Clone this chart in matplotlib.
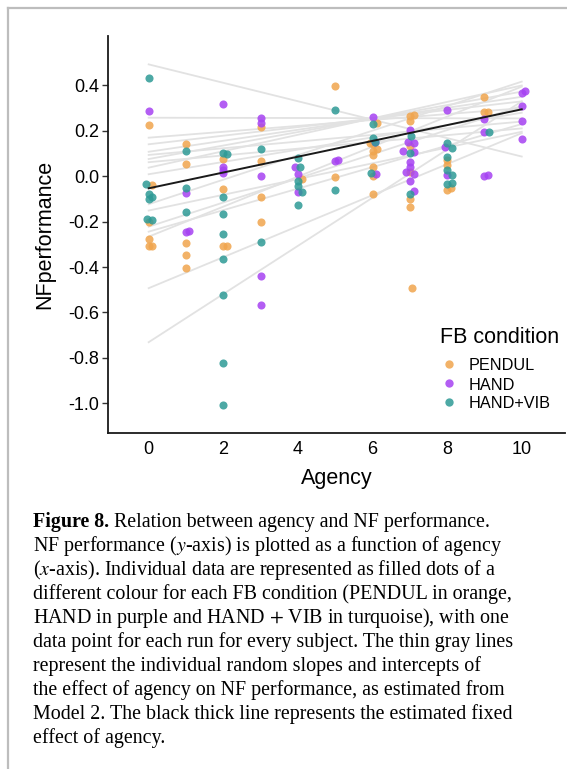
import numpy as np
import matplotlib.pyplot as plt
from matplotlib.lines import Line2D

plt.rcParams['font.family'] = ['Liberation Sans', 'DejaVu Sans']
plt.rcParams['mathtext.fontset'] = 'stix'

#==============================================================================
#                         Data
#==============================================================================
# PENDUL (orange)
pendul_x = [0, 0.08, 0, 0, 0, 0.1,
            1, 1, 1, 1, 1,
            2, 2, 2, 2.1,
            3, 3, 3, 3,
            4.1,
            5, 5,
            6.12, 5.93, 6, 6.13, 6, 6, 6, 6, 6,
            7.1, 7, 7, 7, 7, 7, 7, 7.05,
            8, 8, 8.1, 8,
            9, 9, 9.1]
pendul_y = [0.226, -0.038, -0.203, -0.278, -0.307, -0.307,
            0.141, 0.056, -0.292, -0.348, -0.402,
            0.076, -0.057, -0.307, -0.307,
            0.217, 0.066, -0.093, -0.200,
            -0.010,
            0.398, -0.001,
            0.236, 0.148, 0.141, 0.119, 0.113, 0.093, 0.040, 0.001, -0.078,
            0.270, 0.266, 0.244, 0.135, 0.021, -0.101, -0.135, -0.493,
            0.072, 0.050, -0.050, -0.059,
            0.351, 0.285, 0.285]

# HAND (purple)
hand_x = [0,
          1, 1, 1.08,
          2, 2, 2, 2,
          3, 3, 3, 3, 3,
          3.93, 4, 4,
          5, 5.08,
          6, 6.06, 6.1,
          7, 6.95, 7.12, 6.83, 7.12, 7, 7, 6.9, 7.1, 7, 7.1,
          8, 7.93, 8,
          9, 9, 9, 9.1,
          10.08, 10, 10, 10, 10]
hand_y = [0.286,
          -0.072, -0.245, -0.240,
          0.319, 0.041, 0.028, 0.013,
          0.255, 0.233, 0.003, -0.438, -0.568,
          0.041, 0.010, -0.068,
          0.069, 0.072,
          0.261, 0.153, 0.009,
          0.204, 0.153, 0.145, 0.113, 0.107, 0.062, 0.043, 0.021, 0.010, -0.023, -0.065,
          0.294, 0.129, 0.006,
          0.251, 0.194, 0.003, 0.006,
          0.376, 0.366, 0.308, 0.244, 0.163]

# HAND+VIB (turquoise)
vib_x = [0, -0.07, 0, 0.1, 0, -0.05, 0.09,
         1, 1, 1,
         2, 2.1, 2, 2, 2, 2, 2, 2, 2,
         3, 3,
         4, 4.07, 4, 4, 4.1, 4,
         5, 5,
         6, 6, 6.08, 5.95,
         7.04, 7, 7,
         8, 8.12, 8, 8, 8.12, 8.12, 8,
         9.13]
vib_y = [0.435, -0.032, -0.078, -0.090, -0.100, -0.188, -0.192,
         0.113, -0.051, -0.157,
         0.101, 0.100, -0.093, -0.167, -0.255, -0.363, -0.523, -0.821, -1.007,
         0.120, -0.288,
         0.081, 0.041, -0.023, -0.041, -0.069, -0.125,
         0.294, -0.062,
         0.231, 0.170, 0.150, 0.016,
         0.178, 0.104, -0.076,
         0.145, 0.123, 0.087, 0.028, 0.007, -0.031, -0.035,
         0.197]

# random slopes/intercepts per subject: value at agency 0 and at agency 10
subj_y0  = [0.493, 0.258, 0.170, 0.141, 0.108, 0.094, 0.076, 0.062, 0.038,
            0.009, -0.123, -0.151, -0.222, -0.244, -0.266, -0.493, -0.731]
subj_y10 = [0.087, 0.255, 0.300, 0.330, 0.350, 0.241, 0.373, 0.211, 0.400,
            0.280, 0.417, 0.196, 0.310, 0.230, 0.395, 0.190, 0.330]

# fixed effect
fixed_y0, fixed_y10 = -0.053, 0.295

cond_names = ['PENDUL', 'HAND', 'HAND+VIB']
col_pendul = '#F0A54E'
col_hand = '#A642F2'
col_vib = '#2E9A96'

#==============================================================================
#                         Plotting
#==============================================================================
fig = plt.figure(figsize=(5.67, 7.69), dpi=100)
ax = fig.add_axes([108/567, 1-433/769, (565-108)/567, (433-36)/769])

for a, b in zip(subj_y0, subj_y10):
    ax.plot([0, 10], [a, b], color='#e2e2e2', lw=1.3, zorder=1)

ax.scatter(pendul_x, pendul_y, s=34, color=col_pendul, alpha=0.85, lw=0, zorder=2)
ax.scatter(hand_x, hand_y, s=34, color=col_hand, alpha=0.85, lw=0, zorder=2)
ax.scatter(vib_x, vib_y, s=34, color=col_vib, alpha=0.85, lw=0, zorder=2)

ax.plot([0, 10], [fixed_y0, fixed_y10], color='#1a1a1a', lw=1.4, zorder=3)

ax.set_xlim(-1.09, 11.16)
ax.set_ylim(-1.131, 0.618)
ax.set_xticks([0, 2, 4, 6, 8, 10])
ax.set_yticks([0.4, 0.2, 0.0, -0.2, -0.4, -0.6, -0.8, -1.0])
ax.set_yticklabels(['0.4', '0.2', '0.0', '-0.2', '-0.4', '-0.6', '-0.8', '-1.0'])
ax.tick_params(axis='x', length=0, pad=6, labelsize=13)
ax.tick_params(axis='y', length=4.5, width=1, pad=2, labelsize=13, color='#333333')
for s in ['top', 'right']:
    ax.spines[s].set_visible(False)
for s in ['left', 'bottom']:
    ax.spines[s].set_linewidth(1.3)
    ax.spines[s].set_color('#1a1a1a')

ax.set_xlabel('Agency', fontsize=15.5, labelpad=7)
ax.set_ylabel('NFperformance', fontsize=15.5, labelpad=9)

# legend drawn by hand (left-aligned title like ggplot)
fig.text(440/567, 1-343/769, 'FB condition', fontsize=15.5, va='baseline')
leg_marker_y = [364, 383, 402]
leg_text_y = [370.5, 389.5, 408.5]
for name, c, my, ty in zip(cond_names, [col_pendul, col_hand, col_vib],
                           leg_marker_y, leg_text_y):
    fig.add_artist(Line2D([449/567], [1-my/769], ls='', marker='o', ms=6,
                          color=c, alpha=0.85, mew=0))
    fig.text(469/567, 1-ty/769, name, fontsize=11.7, va='baseline')

# frame around the figure (top and left edges visible)
fig.add_artist(Line2D([8/567, 1], [1-8/769, 1-8/769], color='#bdbdbd', lw=1.6))
fig.add_artist(Line2D([8/567, 8/567], [0, 1-8/769], color='#bdbdbd', lw=1.6))

#==============================================================================
#                         Caption
#==============================================================================
cap_lines = [
    'NF performance ($y$-axis) is plotted as a function of agency',
    '($x$-axis). Individual data are represented as filled dots of a',
    'different colour for each FB condition (PENDUL in orange,',
    'HAND in purple and HAND $+$ VIB in turquoise), with one',
    'data point for each run for every subject. The thin gray lines',
    'represent the individual random slopes and intercepts of',
    'the effect of agency on NF performance, as estimated from',
    'Model 2. The black thick line represents the estimated fixed',
    'effect of agency.',
]
x0 = 33/567
base0 = 526.5
step = 24.1
cap_fs = 14.4
t = fig.text(x0, 1-base0/769, 'Figure 8.', fontsize=cap_fs, fontweight='bold',
             family='Liberation Serif', va='bottom')
fig.text(0, 0, '', fontsize=cap_fs)
ann = plt.annotate('Relation between agency and NF performance.', xy=(1, 0),
                   xycoords=t, xytext=(3.5, 0), textcoords='offset points',
                   fontsize=cap_fs, family='Liberation Serif', va='bottom',
                   annotation_clip=False)
for i, line in enumerate(cap_lines):
    fig.text(x0, 1-(base0 + step*(i+1))/769, line, fontsize=cap_fs,
             family='Liberation Serif', va='baseline')

# the bold line was placed by its bottom; shift so its baseline sits at base0
fig.canvas.draw()
r = fig.canvas.get_renderer()
_, _, d = r.get_text_width_height_descent('Figure 8.', t.get_fontproperties(), ismath=False)
t.set_y(1-(base0 + d)/769)

fig.savefig('out.png', dpi=100)
